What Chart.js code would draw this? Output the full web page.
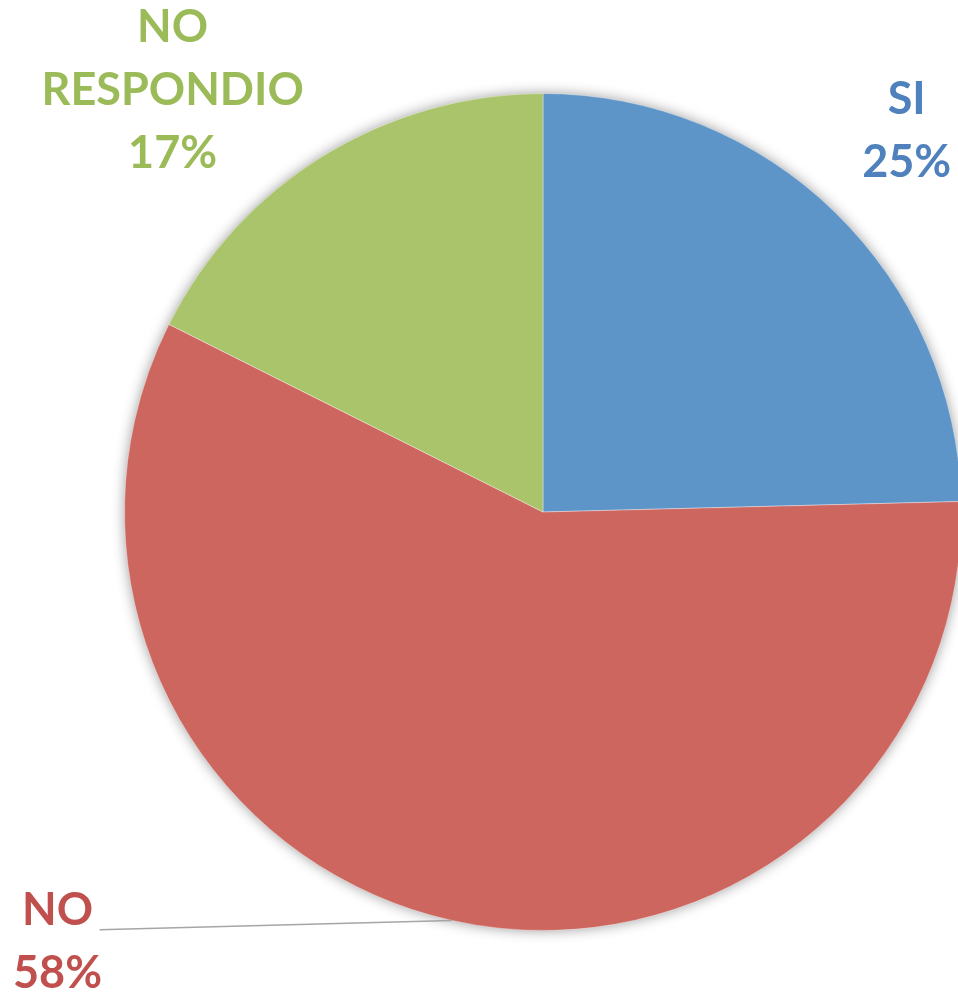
<!DOCTYPE html>
<html>
<head>
<meta charset="utf-8">
<script src="https://cdn.jsdelivr.net/npm/chart.js@4/dist/chart.umd.min.js"></script>
<style>
  html, body { margin: 0; padding: 0; background: #ffffff; overflow: hidden; width: 958px; height: 993px; }
  #wrap { position: absolute; left: 0; top: 0; width: 1087px; height: 993px; }
</style>
</head>
<body>
<div id="wrap"><canvas id="c"></canvas></div>
<script>
// ---- data ----
const categories = ['SI', 'NO', 'NO RESPONDIO'];
const values = [24.6, 57.8, 17.6];
const percentLabels = ['25%', '58%', '17%'];
const labelLines = [['SI'], ['NO'], ['NO', 'RESPONDIO']];

// ---- styling ----
const sliceColors = ['#5E95C8', '#CD665F', '#AAC46B'];
const textColors = ['#4F81BD', '#C0504D', '#9BBB59'];
// label anchor (first baseline, centre x) as multiples of radius from centre
const labelAnchors = [[0.869, -0.950], [-1.160, 0.986], [-0.885, -1.124]];
const lineHeight = 63;

const shadowPlugin = {
  id: 'shadowPlugin',
  beforeDatasetsDraw(chart) {
    const arc = chart.getDatasetMeta(0).data[0];
    if (!arc) return;
    const ctx = chart.ctx;
    ctx.save();
    ctx.shadowColor = 'rgba(0,0,0,0.45)';
    ctx.shadowBlur = 14;
    ctx.beginPath();
    ctx.arc(arc.x, arc.y, arc.outerRadius - 1, 0, Math.PI * 2);
    ctx.fillStyle = '#ffffff';
    ctx.fill();
    ctx.restore();
  }
};

const labelPlugin = {
  id: 'labelPlugin',
  afterDatasetsDraw(chart) {
    const meta = chart.getDatasetMeta(0);
    const ctx = chart.ctx;
    ctx.save();
    ctx.font = 'bold 45px Lato, "Open Sans", sans-serif';
    ctx.textAlign = 'center';
    ctx.textBaseline = 'alphabetic';
    meta.data.forEach((arc, i) => {
      const r = arc.outerRadius;
      const x = arc.x + labelAnchors[i][0] * r;
      const y = arc.y + labelAnchors[i][1] * r;
      const lines = labelLines[i].concat([percentLabels[i]]);
      ctx.fillStyle = textColors[i];
      lines.forEach((t, k) => ctx.fillText(t, x, y + k * lineHeight));
      if (i === 1) {
        // leader line from label to slice edge midpoint
        const mid = (arc.startAngle + arc.endAngle) / 2;
        const ex = arc.x + Math.cos(mid) * r;
        const ey = arc.y + Math.sin(mid) * r;
        ctx.beginPath();
        ctx.moveTo(x + 42, y + 5);
        ctx.lineTo(ex, ey);
        ctx.strokeStyle = '#A6A6A6';
        ctx.lineWidth = 1.5;
        ctx.stroke();
      }
    });
    ctx.restore();
  }
};

new Chart(document.getElementById('c'), {
  type: 'pie',
  data: {
    labels: categories,
    datasets: [{
      data: values,
      backgroundColor: sliceColors,
      borderColor: 'rgba(255,255,255,0.35)',
      borderWidth: 1
    }]
  },
  options: {
    responsive: true,
    maintainAspectRatio: false,
    animation: false,
    layout: { padding: { left: 124, right: 125, top: 93, bottom: 62 } },
    plugins: { legend: { display: false }, tooltip: { enabled: false } }
  },
  plugins: [shadowPlugin, labelPlugin]
});
</script>
</body>
</html>
